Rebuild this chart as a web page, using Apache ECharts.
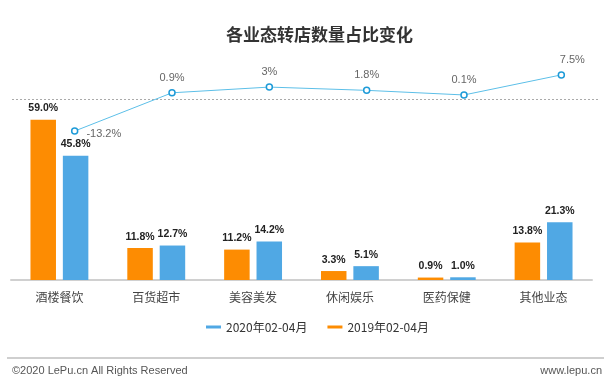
<!DOCTYPE html>
<html>
<head>
<meta charset="utf-8">
<script src="https://cdn.jsdelivr.net/npm/echarts@6/dist/echarts.min.js"></script>
<style>html,body{margin:0;padding:0;background:#fff;}#c{width:612px;height:388px;}</style>
</head>
<body>
<div id="c"></div>
<script>
const categories = ['酒楼餐饮', '百货超市', '美容美发', '休闲娱乐', '医药保健', '其他业态'];
const v2019 = [59.0, 11.8, 11.2, 3.3, 0.9, 13.8];
const v2020 = [45.8, 12.7, 14.2, 5.1, 1.0, 21.3];
const change = [-13.2, 0.9, 3, 1.8, 0.1, 7.5];
const changeLabels = ['-13.2%', '0.9%', '3%', '1.8%', '0.1%', '7.5%'];
const name2019 = '2019年02-04月';
const name2020 = '2020年02-04月';

const FONT = '"Noto Sans CJK SC", "Noto Sans", sans-serif';
const NUMFONT = '"Liberation Sans", "Noto Sans CJK SC", sans-serif';
const chart = echarts.init(document.getElementById('c'), null, {renderer: 'canvas'});

const lineData = change.map((v, i) => {
  const item = {value: v, label: {formatter: changeLabels[i]}};
  if (i === 0) item.label = {formatter: changeLabels[i], position: 'right', offset: [2, 3]};
  if (i === change.length - 1) item.label = {formatter: changeLabels[i], offset: [11, 0]};
  return item;
});

chart.setOption({
  animation: false,
  textStyle: {fontFamily: FONT},
  title: {
    text: '各业态转店数量占比变化',
    left: 221, top: 21,
    textStyle: {fontSize: 17, fontWeight: 'bold', color: '#333', fontFamily: FONT}
  },
  legend: {
    data: [name2020, name2019],
    top: 316, left: 201,
    icon: 'rect', itemWidth: 15, itemHeight: 3, itemGap: 20,
    textStyle: {fontSize: 12, color: '#333', fontFamily: FONT}
  },
  grid: [
    {left: 11, width: 581, top: 90, height: 190, containLabel: false},
    {left: 26, width: 584, top: 68.1, height: 81.4, containLabel: false}
  ],
  xAxis: [
    {
      type: 'category', data: categories, gridIndex: 0,
      axisLine: {lineStyle: {color: '#d0d0d0', width: 2}},
      axisTick: {show: false},
      axisLabel: {fontSize: 12, color: '#444', margin: 11, fontFamily: FONT}
    },
    {
      type: 'category', data: categories, gridIndex: 1, show: false
    }
  ],
  yAxis: [
    {type: 'value', gridIndex: 0, min: 0, max: 70, show: false, splitLine: {show: false}},
    {type: 'value', gridIndex: 1, min: -20, max: 10, show: false, splitLine: {show: false}}
  ],
  series: [
    {
      name: name2019, type: 'bar', data: v2019, xAxisIndex: 0, yAxisIndex: 0,
      barWidth: 25.5, barGap: '27%',
      itemStyle: {color: '#fd8c02'},
      label: {show: true, position: 'top', distance: 6, formatter: p => p.value.toFixed(1) + '%',
        fontSize: 10.5, fontWeight: 'bold', color: '#222', fontFamily: NUMFONT}
    },
    {
      name: name2020, type: 'bar', data: v2020, xAxisIndex: 0, yAxisIndex: 0,
      barWidth: 25.5, barGap: '27%',
      itemStyle: {color: '#50a8e4'},
      label: {show: true, position: 'top', distance: 6, formatter: p => p.value.toFixed(1) + '%',
        fontSize: 10.5, fontWeight: 'bold', color: '#222', fontFamily: NUMFONT}
    },
    {
      name: 'change', type: 'line', data: lineData, xAxisIndex: 1, yAxisIndex: 1,
      symbol: 'circle', symbolSize: 6, showAllSymbol: true,
      lineStyle: {color: '#5cbfe8', width: 1},
      itemStyle: {color: '#fff', borderColor: '#1e9bd8', borderWidth: 1.5},
      label: {show: true, position: 'top', distance: 6, fontSize: 11, color: '#666', fontFamily: NUMFONT},
      z: 5
    }
  ],
  graphic: [
    {type: 'line', shape: {x1: 12, y1: 99.5, x2: 598, y2: 99.5},
      style: {stroke: '#aaa', lineWidth: 1, lineDash: [2, 2]}, z: 1},
    {type: 'line', shape: {x1: 7, y1: 358, x2: 604, y2: 358},
      style: {stroke: '#cfcfcf', lineWidth: 2}},
    {type: 'text', left: 12, top: 365,
      style: {text: '©2020 LePu.cn All Rights Reserved', fontSize: 11, fill: '#555', fontFamily: NUMFONT}},
    {type: 'text', right: 10, top: 365,
      style: {text: 'www.lepu.cn', fontSize: 11, fill: '#555', fontFamily: NUMFONT}}
  ]
});
</script>
</body>
</html>
